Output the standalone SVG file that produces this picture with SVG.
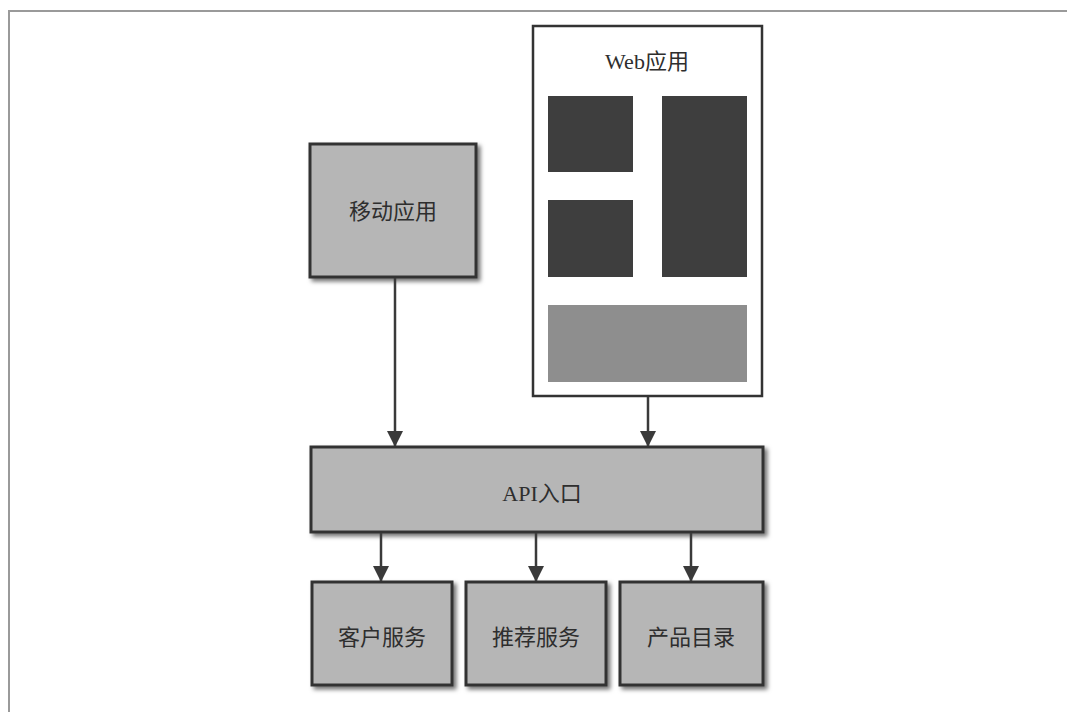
<svg xmlns="http://www.w3.org/2000/svg" width="1067" height="712" viewBox="0 0 1067 712">
<defs>
<filter id="sh" x="-10%" y="-10%" width="130%" height="130%">
<feDropShadow dx="3" dy="3" stdDeviation="2" flood-color="#000" flood-opacity="0.55"/>
</filter>
<marker id="ah" viewBox="0 0 16 16" refX="15" refY="8" markerWidth="16" markerHeight="16" markerUnits="userSpaceOnUse" orient="auto">
<path d="M0,0 L16,8 L0,16 Z" fill="#3a3a3a"/>
</marker>
</defs>
<style>
.box{fill:#b6b6b6;stroke:#333;stroke-width:3;filter:url(#sh)}
.lbl{font-family:"Liberation Serif","Noto Sans CJK SC",serif;font-size:22px;fill:#2e2e2e;text-anchor:middle;dominant-baseline:central}
.conn{stroke:#3a3a3a;stroke-width:2.5;fill:none;marker-end:url(#ah)}
.dark{fill:#3e3e3e}
</style>
<rect width="1067" height="712" fill="#fff"/>
<path d="M9,712 L9,11 L1067,11" fill="none" stroke="#9a9a9a" stroke-width="2"/>
<g id="mobile">
<rect class="box" x="310" y="144" width="166" height="133"/>
<text class="lbl" x="393" y="211">移动应用</text>
</g>
<g id="web">
<rect x="533" y="26" width="229" height="370" fill="#fff" stroke="#333" stroke-width="2.5"/>
<text class="lbl" x="647" y="61">Web应用</text>
<rect class="dark" x="548" y="96" width="85" height="76"/>
<rect class="dark" x="548" y="200" width="85" height="77"/>
<rect class="dark" x="662" y="96" width="85" height="181"/>
<rect x="548" y="305" width="199" height="77" fill="#8e8e8e"/>
</g>
<g id="api">
<rect class="box" x="311" y="447" width="452" height="85"/>
<text class="lbl" x="542" y="493">API入口</text>
</g>
<g id="customer">
<rect class="box" x="312" y="582" width="140" height="103"/>
<text class="lbl" x="382" y="637">客户服务</text>
</g>
<g id="recommend">
<rect class="box" x="466" y="582" width="140" height="103"/>
<text class="lbl" x="536" y="637">推荐服务</text>
</g>
<g id="catalog">
<rect class="box" x="620" y="582" width="143" height="103"/>
<text class="lbl" x="691" y="637">产品目录</text>
</g>
<g id="connectors">
<line class="conn" x1="395" y1="278" x2="395" y2="446"/>
<line class="conn" x1="648" y1="397" x2="648" y2="446"/>
<line class="conn" x1="381" y1="533" x2="381" y2="581"/>
<line class="conn" x1="536" y1="533" x2="536" y2="581"/>
<line class="conn" x1="691" y1="533" x2="691" y2="581"/>
</g>
</svg>
